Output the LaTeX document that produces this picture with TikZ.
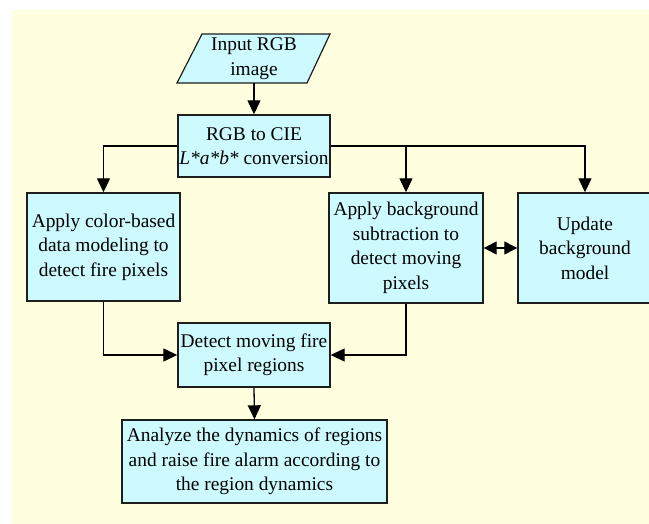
\documentclass[tikz,border=0pt]{standalone}
\usepackage{fontspec}
\setmainfont{Liberation Serif}
\usetikzlibrary{arrows.meta}
\definecolor{cream}{RGB}{255,255,224}
\definecolor{boxfill}{RGB}{204,250,255}
\definecolor{edge}{RGB}{30,30,30}
\tikzset{
  procbox/.style={draw=edge, line width=1.4pt, fill=boxfill, align=center, inner sep=0pt,
    font=\fontsize{19.4}{24.5}\selectfont},
  flow/.style={draw=black, line width=1.3pt, -{Triangle[length=14pt,width=13pt]}},
  bothflow/.style={draw=black, line width=1.3pt, {Triangle[length=13pt,width=13pt]}-{Triangle[length=13pt,width=13pt]}}
}
\begin{document}
\begin{tikzpicture}[x=1pt,y=-1pt]
\useasboundingbox (0,0) rectangle (649,523);
\clip (0,0) rectangle (649,523);
\fill[white] (0,0) rectangle (649,523);
\fill[cream] (12,10) rectangle (660,530);
% input parallelogram
\filldraw[fill=boxfill, draw=edge, line width=1.2pt] (202,34) -- (330,34) -- (307,83) -- (177,83) -- cycle;
\node[align=center, inner sep=0pt, minimum width=120pt, minimum height=49pt,
  font=\fontsize{19.4}{24.5}\selectfont] (inp) at (254,58.5) {Input RGB\\image};
\node[procbox, minimum width=152pt, minimum height=62pt] (rgb) at (254,146) {RGB to CIE\\\textit{L*a*b*} conversion};
\node[procbox, minimum width=153pt, minimum height=108pt] (color) at (103.5,247) {Apply color-based\\data modeling to\\detect fire pixels};
\node[procbox, minimum width=154pt, minimum height=110pt] (bgsub) at (406,248) {Apply background\\subtraction to\\detect moving\\pixels};
\node[procbox, minimum width=134pt, minimum height=110pt] (upd) at (585,248) {Update\\background\\model};
\node[procbox, minimum width=152pt, minimum height=64pt] (det) at (254,355) {Detect moving fire\\pixel regions};
\node[procbox, minimum width=265pt, minimum height=83pt] (ana) at (254.5,461.5) {Analyze the dynamics of regions\\and raise fire alarm according to\\the region dynamics};
\coordinate (split) at (bgsub.north |- rgb.east);
% connectors
\draw[flow] (inp.south) -- (rgb.north);
\draw[flow] (rgb.west) -| (color.north);
\draw[flow] (rgb.east) -| (upd.north);
\draw[flow] (split) -- (bgsub.north);
\draw[bothflow] (bgsub.east) -- (upd.west);
\draw[flow] (color.south) |- (det.west);
\draw[flow] (bgsub.south) |- (det.east);
\draw[flow] (det.south) -- (ana.north);
\end{tikzpicture}
\end{document}
